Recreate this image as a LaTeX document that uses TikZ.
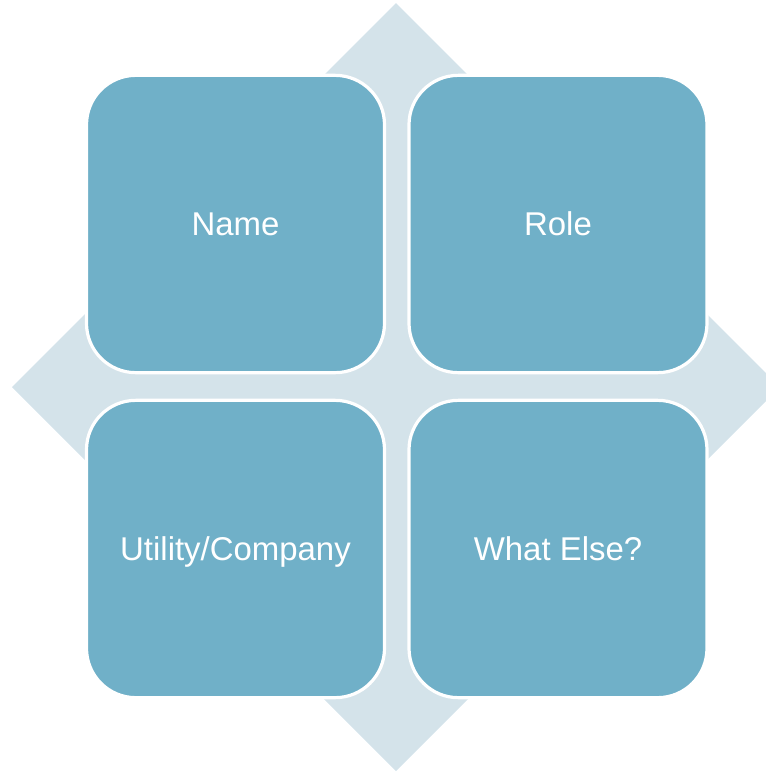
\documentclass[tikz,border=0pt]{standalone}
\usepackage{fontspec}
\setmainfont{Liberation Sans}
\definecolor{boxfill}{HTML}{70B0C8}
\definecolor{diamondfill}{HTML}{D4E3EA}
\tikzset{
  quad/.style={draw=white, line width=2.4pt, fill=boxfill, rounded corners=37pt,
    minimum width=223.5pt, minimum height=223pt, inner sep=0pt, outer sep=0pt,
    text=white, font=\fontsize{24.7pt}{29pt}\selectfont,
    text height=17.7pt, text depth=0pt},
  bg/.style={fill=diamondfill, draw=none}
}
\begin{document}
\begin{tikzpicture}[x=0.75pt,y=-0.75pt]
\useasboundingbox (0,0) rectangle (766,772);
\begin{scope}
\clip (0,0) rectangle (766,772);
\path[bg] (396,3) -- (780,387) -- (396,771) -- (12,387) -- cycle;
\end{scope}
\node[quad] (name) at (235.5,224) {Name};
\node[quad] (role) at (558,224) {Role};
\node[quad] (util) at (235.5,549) {Utility/Company};
\node[quad] (else) at (558,549) {What Else?};
\end{tikzpicture}
\end{document}
